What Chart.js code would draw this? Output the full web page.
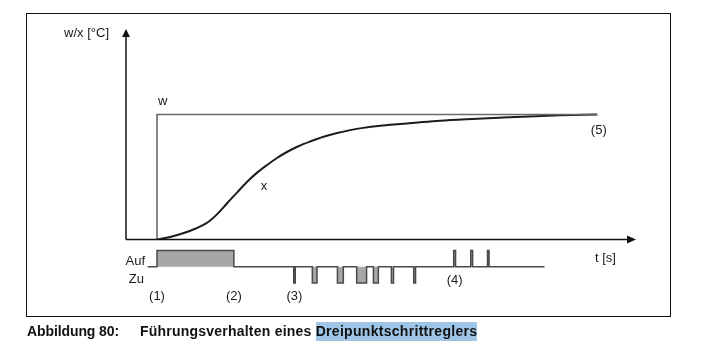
<!DOCTYPE html>
<html>
<head>
<meta charset="utf-8">
<script src="https://cdn.jsdelivr.net/npm/chart.js@4/dist/chart.umd.min.js"></script>
<style>
  html, body { margin: 0; padding: 0; background: #fff; }
  #wrap { position: relative; width: 716px; height: 352px; overflow: hidden; font-family: "Liberation Sans", Arial, sans-serif; }
  #frame { position: absolute; left: 26px; top: 13px; width: 643px; height: 302px; border: 1.5px solid #111; }
  #main { position: absolute; left: 0; top: 0; }
  #pulse { position: absolute; left: 0; top: 245px; }
  #caption { position: absolute; left: 27px; top: 323px; font-weight: bold; font-size: 14px; color: #111; white-space: nowrap; letter-spacing: -0.1px; }
  #caption .num { display: inline-block; width: 113px; }
  #caption .rest { letter-spacing: 0.22px; }
  #caption .hl { background: #9fc5e6; padding: 1px 0 2px 0; letter-spacing: 0.3px; }
</style>
</head>
<body>
<div id="wrap">
  <div id="frame"></div>
  <canvas id="main" width="716" height="352"></canvas>
  <canvas id="pulse" width="716" height="45"></canvas>
  <div id="caption"><span class="num">Abbildung 80:</span><span class="rest">Führungsverhalten eines </span><span class="hl">Dreipunktschrittreglers</span></div>
</div>
<script>
// ---- data (time in arbitrary units, temperature in % of setpoint) ----
const setpointTimes  = [0, 0, 142];
const setpointValues = [0, 100, 100];

const actualTimes  = [0, 4.2, 8.4, 12.5, 16.5, 19.5, 22.6, 25.8, 29, 32.2, 35.5, 38.7, 41.9, 45.6, 49.4, 53.7, 58.1, 62.3, 66.5, 72, 78.4, 85, 91.3, 100, 110.6, 120, 130, 142];
const actualValues = [0, 2, 5, 8.8, 14, 20.5, 29, 37.5, 46, 53.3, 59.6, 65.2, 70, 74.6, 78.4, 82.2, 85.2, 87.5, 89.3, 91, 92.4, 93.8, 95, 96.2, 97.4, 98.4, 99.3, 100];

// actuator pulses: [start, end]
const aufPulses = [[0, 24.8], [95.7, 96.3], [101.2, 101.8], [106.6, 107.1]];
const zuPulses  = [[44.1, 44.6], [50.1, 51.6], [58.2, 60.1], [64.4, 67.6], [69.8, 71.4], [75.6, 76.3], [82.8, 83.4]];
const baselineRange = [-3, 125];

// labels
const markerLabels = ['(1)', '(2)', '(3)', '(4)', '(5)'];
const markerTimes  = [0, 24.8, 44.3, 96, 142.5];

const X_MIN = -10, X_MAX = 154.5;
const Y_MIN = 0, Y_MAX = 168.4;

const FONT = '"Liberation Sans", Arial, sans-serif';

function toPoints(xs, ys) { return xs.map((x, i) => ({ x: x, y: ys[i] })); }

// build the three-level actuator signal from the pulse lists
function buildSignal() {
  const ev = [];
  aufPulses.forEach(p => ev.push({ a: p[0], b: p[1], v: 1 }));
  zuPulses.forEach(p => ev.push({ a: p[0], b: p[1], v: -1 }));
  ev.sort((m, n) => m.a - n.a);
  const pts = [{ x: baselineRange[0], y: 0 }];
  ev.forEach(e => {
    pts.push({ x: e.a, y: 0 }, { x: e.a, y: e.v }, { x: e.b, y: e.v }, { x: e.b, y: 0 });
  });
  pts.push({ x: baselineRange[1], y: 0 });
  return pts;
}

const annot = {
  id: 'annot',
  afterDatasetsDraw(chart) {
    const ctx = chart.ctx, a = chart.chartArea;
    const xs = chart.scales.x, ys = chart.scales.y;
    ctx.save();
    ctx.strokeStyle = '#111';
    ctx.fillStyle = '#111';
    ctx.lineWidth = 1.5;
    // y axis
    ctx.beginPath();
    ctx.moveTo(a.left, a.bottom);
    ctx.lineTo(a.left, a.top + 7);
    ctx.stroke();
    ctx.beginPath();
    ctx.moveTo(a.left, a.top);
    ctx.lineTo(a.left - 4, a.top + 8);
    ctx.lineTo(a.left + 4, a.top + 8);
    ctx.closePath();
    ctx.fill();
    // x axis
    ctx.beginPath();
    ctx.moveTo(a.left, a.bottom);
    ctx.lineTo(a.right - 7, a.bottom);
    ctx.stroke();
    ctx.beginPath();
    ctx.moveTo(a.right, a.bottom);
    ctx.lineTo(a.right - 9, a.bottom - 4);
    ctx.lineTo(a.right - 9, a.bottom + 4);
    ctx.closePath();
    ctx.fill();

    ctx.font = '13px ' + FONT;
    ctx.textBaseline = 'middle';
    ctx.fillStyle = '#1a1a1a';
    ctx.textAlign = 'right';
    ctx.fillText('w/x [°C]', a.left - 17, 33);
    ctx.textAlign = 'left';
    ctx.fillText('w', xs.getPixelForValue(setpointTimes[0]) + 1, ys.getPixelForValue(110.5));
    ctx.fillText('x', xs.getPixelForValue(33.5), ys.getPixelForValue(42.5));
    ctx.textAlign = 'center';
    ctx.fillText(markerLabels[4], xs.getPixelForValue(markerTimes[4]), ys.getPixelForValue(87.5));
    ctx.textAlign = 'left';
    ctx.fillText('t [s]', a.right - 41, a.bottom + 19);
    ctx.restore();
  }
};

new Chart(document.getElementById('main'), {
  type: 'line',
  data: {
    datasets: [
      { data: toPoints(setpointTimes, setpointValues), borderColor: '#6a6a6a', borderWidth: 1.6, pointRadius: 0, tension: 0, fill: false },
      { data: toPoints(actualTimes, actualValues), borderColor: '#1c1c1c', borderWidth: 2, pointRadius: 0, cubicInterpolationMode: 'monotone', fill: false }
    ]
  },
  options: {
    responsive: false,
    animation: false,
    events: [],
    layout: { padding: { left: 126, right: 80, top: 29, bottom: 112.5 } },
    scales: {
      x: { type: 'linear', min: X_MIN, max: X_MAX, display: false },
      y: { type: 'linear', min: Y_MIN, max: Y_MAX, display: false }
    },
    plugins: { legend: { display: false }, tooltip: { enabled: false } }
  },
  plugins: [annot]
});

const pulseChart = new Chart(document.getElementById('pulse'), {
  type: 'line',
  data: {
    datasets: [
      { data: buildSignal(), borderColor: '#4a4a4a', borderWidth: 1.5, pointRadius: 0, tension: 0,
        fill: { value: 0 }, backgroundColor: '#a7a7a7' }
    ]
  },
  options: {
    responsive: false,
    animation: false,
    events: [],
    clip: false,
    layout: { padding: { left: 126, right: 80, top: 5.5, bottom: 7 } },
    scales: {
      x: { type: 'linear', min: X_MIN, max: X_MAX, display: false },
      y: { type: 'linear', min: -1, max: 1, display: false }
    },
    plugins: { legend: { display: false }, tooltip: { enabled: false } }
  }
});

// text around the actuator diagram, positioned through the pulse chart's scales
(function () {
  const c = document.getElementById('main');
  const ctx = c.getContext('2d');
  const xs = pulseChart.scales.x;
  const ys = pulseChart.scales.y;
  const top = 245; // offset of pulse canvas
  ctx.save();
  ctx.font = '13px ' + FONT;
  ctx.fillStyle = '#1a1a1a';
  ctx.textBaseline = 'middle';
  ctx.textAlign = 'right';
  ctx.fillText('Auf', 145, top + ys.getPixelForValue(0.3));
  ctx.fillText('Zu', 144, top + ys.getPixelForValue(-0.75));
  ctx.textAlign = 'center';
  for (let i = 0; i < 3; i++) {
    ctx.fillText(markerLabels[i], xs.getPixelForValue(markerTimes[i]), 296);
  }
  ctx.fillText(markerLabels[3], xs.getPixelForValue(markerTimes[3]), 280);
  ctx.restore();
})();
</script>
</body>
</html>
